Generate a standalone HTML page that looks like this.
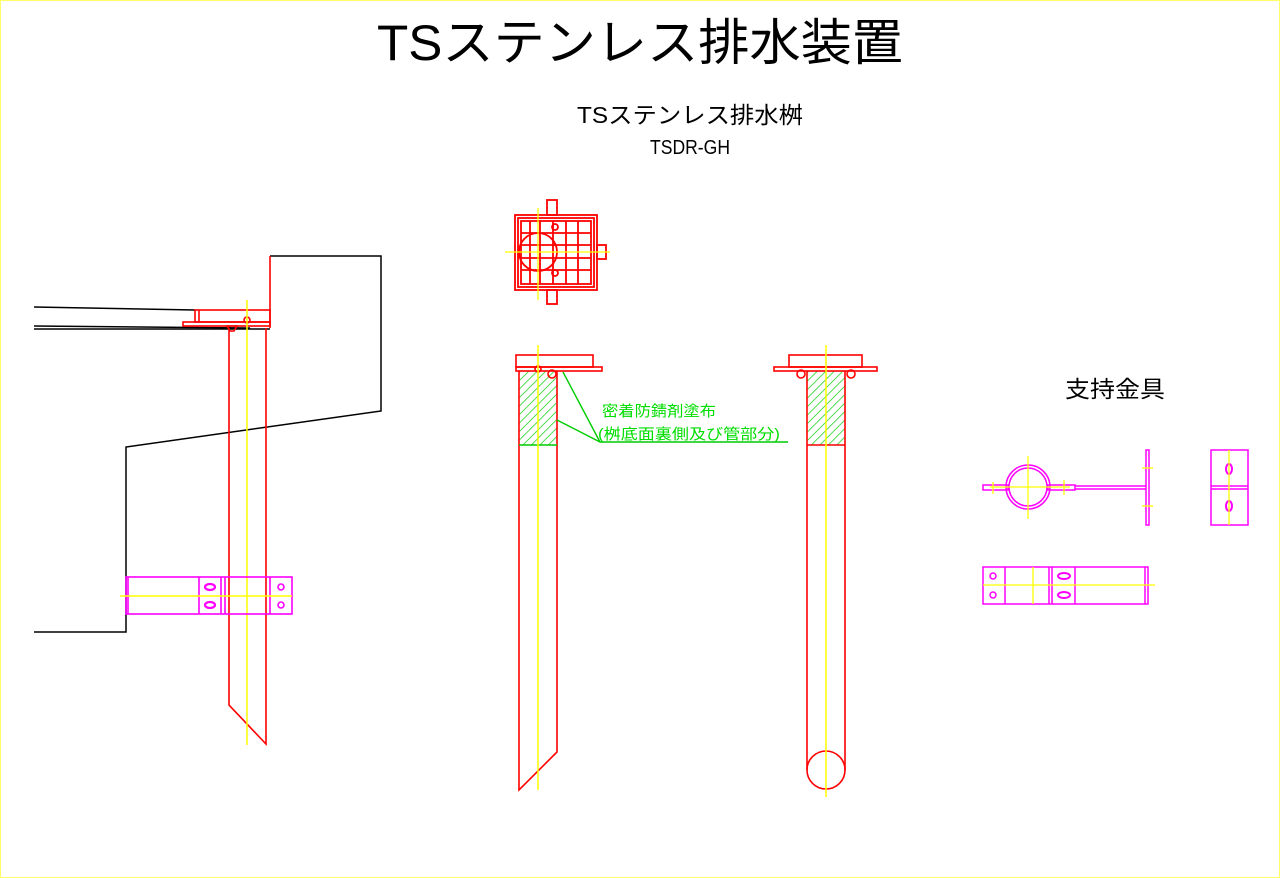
<!DOCTYPE html>
<html><head><meta charset="utf-8"><style>
html,body{margin:0;padding:0;background:#fff;}
svg{display:block;}
text{font-family:"Liberation Sans","Noto Sans CJK JP",sans-serif;}
</style></head><body>
<svg width="1280" height="878" viewBox="0 0 1280 878" xmlns="http://www.w3.org/2000/svg">
<defs>
<pattern id="h" width="6" height="6" patternUnits="userSpaceOnUse" patternTransform="rotate(45)">
<line x1="0" y1="0" x2="0" y2="6" stroke="#00cc00" stroke-width="1.4"/>
</pattern>
</defs>
<rect x="0.5" y="0.5" width="1279" height="877" fill="#fff" stroke="#ffff66" stroke-width="1"/>
<text x="640" y="60" font-size="50" text-anchor="middle" textLength="526" lengthAdjust="spacingAndGlyphs">TSステンレス排水装置</text>
<text x="690" y="123" font-size="23" text-anchor="middle" textLength="226" lengthAdjust="spacingAndGlyphs">TSステンレス排水桝</text>
<text x="690" y="154" font-size="20" text-anchor="middle" textLength="80" lengthAdjust="spacingAndGlyphs">TSDR-GH</text>
<text x="1115" y="397" font-size="23" text-anchor="middle" textLength="100" lengthAdjust="spacingAndGlyphs">支持金具</text>

<!-- Left drawing -->
<g fill="none" stroke="#000" stroke-width="1.5">
<polyline points="270,256 381,256 381,411 126,447 126,632 34,632"/>
<line x1="34" y1="307" x2="195" y2="310"/>
<line x1="34" y1="326" x2="250" y2="328"/>
<line x1="34" y1="329" x2="270" y2="329"/>
</g>
<g fill="none" stroke="#ff0000" stroke-width="1.6">
<line x1="270" y1="256" x2="270" y2="328"/>
<rect x="195" y="310" width="75" height="12"/>
<rect x="183" y="322" width="87" height="4"/>
<line x1="199" y1="310" x2="199" y2="322"/>
<circle cx="247" cy="320" r="3"/>
<path d="M227 326 h10 l-3 5 h-4 z"/>
<polyline points="229,328 229,705 266,744 266,328"/>
</g>
<line x1="247" y1="300" x2="247" y2="745" stroke="#ffff00" stroke-width="1.5"/>
<g fill="none" stroke="#ff00ff" stroke-width="1.6">
<rect x="126" y="577" width="166" height="37"/>
<line x1="128" y1="577" x2="128" y2="614"/>
<line x1="199" y1="577" x2="199" y2="614"/>
<line x1="221" y1="577" x2="221" y2="614"/>
<line x1="225" y1="577" x2="225" y2="614"/>
<line x1="270" y1="577" x2="270" y2="614"/>
<ellipse cx="210" cy="587" rx="5" ry="3" stroke-width="2.2"/>
<ellipse cx="210" cy="605" rx="5" ry="3" stroke-width="2.2"/>
<circle cx="281" cy="587" r="3"/>
<circle cx="281" cy="605" r="3"/>
</g>
<line x1="120" y1="596" x2="292" y2="596" stroke="#ffff00" stroke-width="1.5"/>

<!-- Top view grate -->
<g fill="none" stroke="#ff0000" stroke-width="1.8">
<rect x="515" y="215" width="82" height="75"/>
<rect x="518" y="218" width="76" height="69"/>
<rect x="521" y="221" width="70" height="63"/>
<line x1="530" y1="221" x2="530" y2="284"/><line x1="540" y1="221" x2="540" y2="284"/>
<line x1="553" y1="221" x2="553" y2="284"/><line x1="566" y1="221" x2="566" y2="284"/>
<line x1="578" y1="221" x2="578" y2="284"/>
<line x1="521" y1="233" x2="591" y2="233"/><line x1="521" y1="245" x2="591" y2="245"/>
<line x1="521" y1="258" x2="591" y2="258"/><line x1="521" y1="270" x2="591" y2="270"/>
<circle cx="538" cy="252" r="19"/>
<rect x="547" y="200" width="10" height="15"/>
<rect x="547" y="290" width="10" height="14"/>
<rect x="597" y="245" width="9" height="14"/>
<circle cx="555" cy="227" r="3"/><circle cx="555" cy="273" r="3"/>
</g>
<line x1="538" y1="208" x2="538" y2="300" stroke="#ffff00" stroke-width="1.3"/>
<line x1="505" y1="252" x2="610" y2="252" stroke="#ffff00" stroke-width="1.3"/>

<!-- Section 1 -->
<rect x="519" y="371" width="38" height="74" fill="url(#h)"/>
<g fill="none" stroke="#ff0000" stroke-width="1.6">
<rect x="516" y="355" width="77" height="12"/>
<rect x="516" y="367" width="86" height="4"/>
<polyline points="519,371 519,790 557,752 557,371"/>
<circle cx="538" cy="369" r="3"/>
<circle cx="552" cy="374" r="4"/>
</g>
<line x1="519" y1="445" x2="557" y2="445" stroke="#00cc00" stroke-width="1.5"/>
<line x1="538" y1="345" x2="538" y2="790" stroke="#ffff00" stroke-width="1.5"/>

<!-- Section 2 -->
<rect x="807" y="371" width="38" height="74" fill="url(#h)"/>
<g fill="none" stroke="#ff0000" stroke-width="1.6">
<rect x="789" y="355" width="73" height="12"/>
<rect x="774" y="367" width="103" height="4"/>
<polyline points="807,371 807,770"/><polyline points="845,371 845,770"/>
<line x1="807" y1="445" x2="845" y2="445"/>
<circle cx="826" cy="770" r="19"/>
<circle cx="801" cy="374" r="4"/><circle cx="851" cy="374" r="4"/>
</g>
<line x1="826" y1="345" x2="826" y2="797" stroke="#ffff00" stroke-width="1.5"/>

<!-- Green leader -->
<g stroke="#00cc00" stroke-width="1.4" fill="none">
<polyline points="563,372 600,442 788,442"/>
<line x1="557" y1="420" x2="600" y2="442"/>
</g>
<text x="602" y="416" font-size="15" fill="#00dd00" textLength="114" lengthAdjust="spacingAndGlyphs">密着防錆剤塗布</text>
<text x="598" y="439" font-size="15" fill="#00dd00" textLength="182" lengthAdjust="spacingAndGlyphs">(桝底面裏側及び管部分)</text>

<!-- Right: support fittings -->
<g fill="none" stroke="#ff00ff" stroke-width="1.5">
<circle cx="1028" cy="487" r="22"/>
<circle cx="1028" cy="487" r="19"/>
<rect x="983" y="485" width="25" height="5"/>
<rect x="1048" y="485" width="27" height="5"/>
<line x1="1075" y1="486" x2="1146" y2="486"/>
<line x1="1075" y1="489" x2="1146" y2="489"/>
<rect x="1146" y="450" width="3" height="75"/>
<rect x="1211" y="450" width="37" height="75"/>
<line x1="1211" y1="486" x2="1248" y2="486"/><line x1="1211" y1="489" x2="1248" y2="489"/>
<ellipse cx="1229" cy="469" rx="3" ry="5" stroke-width="2"/><ellipse cx="1229" cy="506" rx="3" ry="5" stroke-width="2"/>
<rect x="983" y="567" width="165" height="37"/>
<line x1="1005" y1="567" x2="1005" y2="604"/>
<line x1="1049" y1="567" x2="1049" y2="604"/><line x1="1052" y1="567" x2="1052" y2="604"/>
<line x1="1075" y1="567" x2="1075" y2="604"/><line x1="1145" y1="567" x2="1145" y2="604"/>
<ellipse cx="1064" cy="576" rx="6" ry="3" stroke-width="2"/><ellipse cx="1064" cy="595" rx="6" ry="3" stroke-width="2"/>
<circle cx="993" cy="576" r="3"/><circle cx="993" cy="595" r="3"/>
</g>
<g stroke="#ffff00" stroke-width="1.3">
<line x1="1028" y1="456" x2="1028" y2="519"/>
<line x1="990" y1="487" x2="1070" y2="487"/>
<line x1="993" y1="482" x2="993" y2="494"/><line x1="1064" y1="480" x2="1064" y2="495"/>
<line x1="1142" y1="468" x2="1153" y2="468"/><line x1="1142" y1="506" x2="1153" y2="506"/>
<line x1="1229" y1="450" x2="1229" y2="525"/>
<line x1="1033" y1="567" x2="1033" y2="604"/>
<line x1="983" y1="585" x2="1155" y2="585"/>
</g>
</svg>
</body></html>
